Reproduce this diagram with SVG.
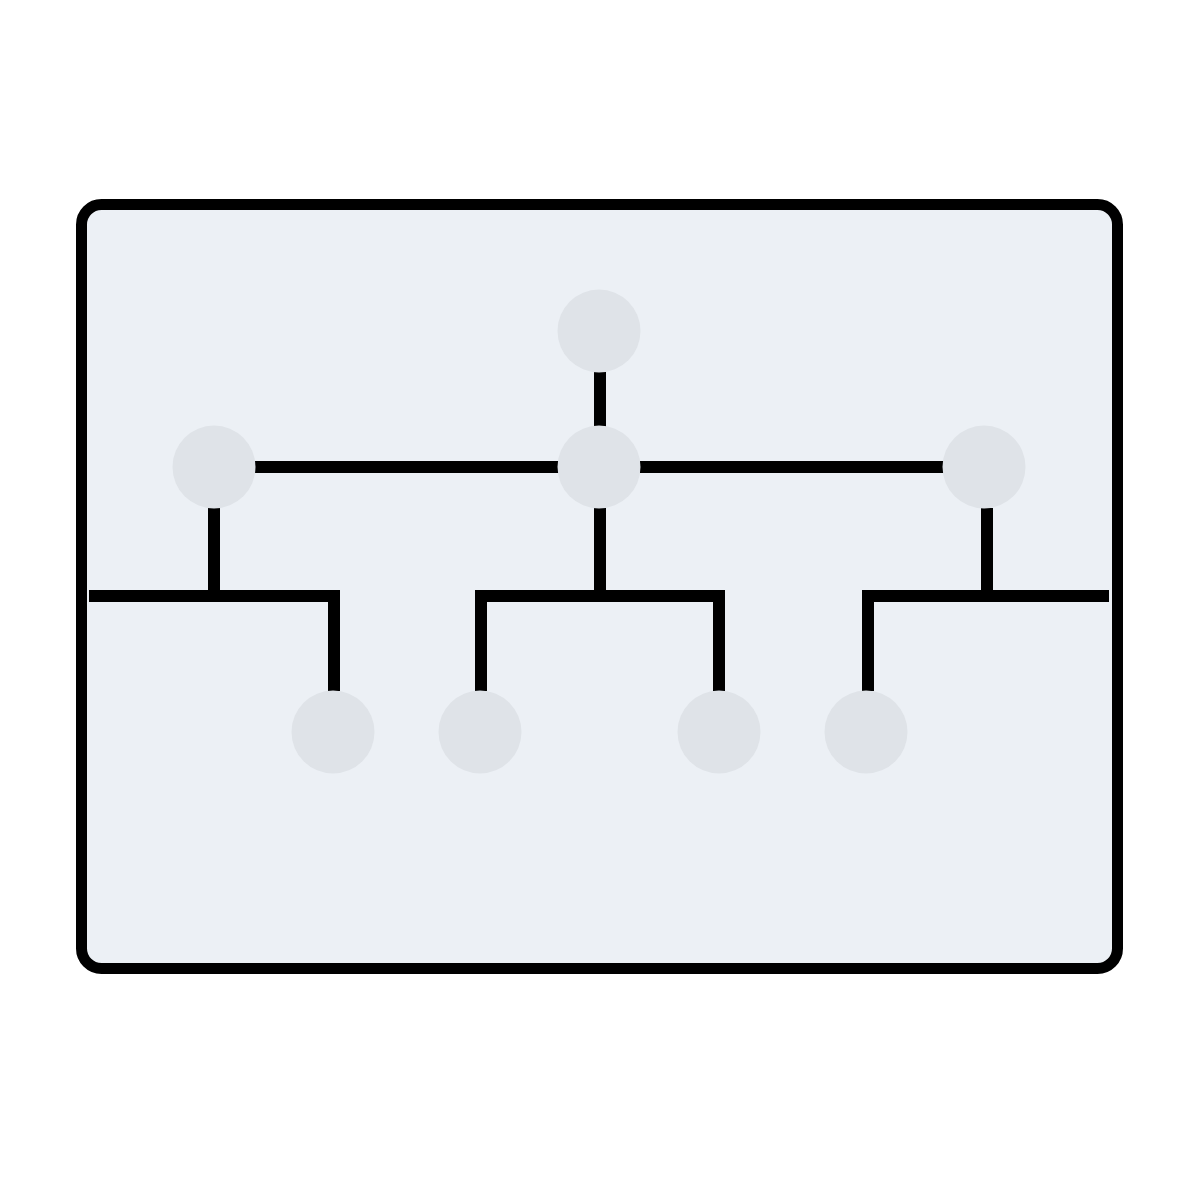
<svg xmlns="http://www.w3.org/2000/svg" width="1200" height="1200" viewBox="0 0 1200 1200">
<style>
.frame{fill:#ECF0F5;stroke:#000;stroke-width:11}
.node{fill:#DFE3E8}
.wire{fill:none;stroke:#000;stroke-width:12;stroke-linejoin:miter;stroke-linecap:butt}
</style>
<rect width="1200" height="1200" fill="#fff"/>
<rect class="frame" x="81.5" y="204.5" width="1036" height="764" rx="20"/>
<g id="connectors">
<line class="wire" x1="600" y1="372" x2="600" y2="427"/>
<line class="wire" x1="255" y1="467" x2="559" y2="467"/>
<line class="wire" x1="640" y1="467" x2="944" y2="467"/>
<line class="wire" x1="214" y1="508" x2="214" y2="596"/>
<polyline class="wire" points="89,596 334,596 334,691"/>
<line class="wire" x1="600" y1="508" x2="600" y2="596"/>
<polyline class="wire" points="481,691 481,596 719,596 719,691"/>
<line class="wire" x1="987" y1="508" x2="987" y2="596"/>
<polyline class="wire" points="868,691 868,596 1109,596"/>
</g>
<g id="n-top"><circle class="node" cx="599" cy="331" r="41.5"/></g>
<g id="n-mid-left"><circle class="node" cx="214" cy="467" r="41.5"/></g>
<g id="n-mid-center"><circle class="node" cx="599" cy="467" r="41.5"/></g>
<g id="n-mid-right"><circle class="node" cx="984" cy="467" r="41.5"/></g>
<g id="n-b1"><circle class="node" cx="333" cy="732" r="41.5"/></g>
<g id="n-b2"><circle class="node" cx="480" cy="732" r="41.5"/></g>
<g id="n-b3"><circle class="node" cx="719" cy="732" r="41.5"/></g>
<g id="n-b4"><circle class="node" cx="866" cy="732" r="41.5"/></g>
</svg>
